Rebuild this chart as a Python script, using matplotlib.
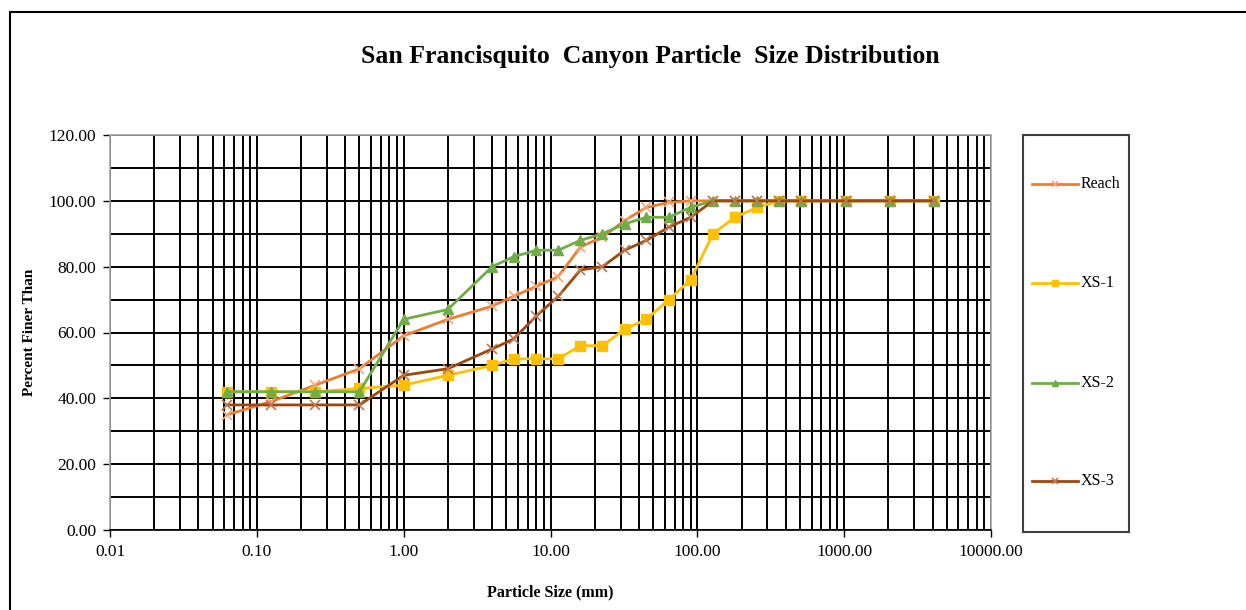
import matplotlib

matplotlib.use("Agg")
import matplotlib.pyplot as plt
from matplotlib.lines import Line2D
from matplotlib.patches import Rectangle
from matplotlib.ticker import FixedLocator, LogLocator, NullFormatter

# sieve sizes (mm)
sizes = [0.0625, 0.125, 0.25, 0.5, 1, 2, 4, 5.6, 8, 11.3, 16, 22.6, 32, 45,
         64, 90, 128, 180, 256, 362, 512, 1024, 2048, 4096]

reach = [35, 39, 44, 49, 59, 64, 68, 71, 74, 77, 86, 89, 94, 98,
         99.5, 100, 100, 100, 100, 100, 100, 100, 100, 100]
xs1 = [42, 42, 42, 43, 44, 47, 50, 52, 52, 52, 56, 56, 61, 64,
       70, 76, 90, 95, 98, 100, 100, 100, 100, 100]
xs2 = [42, 42, 42, 42, 64, 67, 80, 83, 85, 85, 88, 90, 93, 95,
       95, 98, 100, 100, 100, 100, 100, 100, 100, 100]
xs3 = [38, 38, 38, 38, 47, 49, 55, 58, 65, 71, 79, 80, 85, 88,
       92, 95, 100, 100, 100, 100, 100, 100, 100, 100]

series_names = ["Reach", "XS-1", "XS-2", "XS-3"]
series_vals = [reach, xs1, xs2, xs3]

x_ticks = [0.01, 0.1, 1, 10, 100, 1000, 10000]
x_ticklabels = ["0.01", "0.10", "1.00", "10.00", "100.00", "1000.00", "10000.00"]
y_ticks = [0, 20, 40, 60, 80, 100, 120]

plt.rcParams["font.family"] = ["Liberation Serif", "DejaVu Serif"]

fig = plt.figure(figsize=(12.46, 6.10), dpi=100)
W, H = 1246, 610

# outer chart border (cut off at right/bottom in the original)
fig.patches.append(Rectangle((10 / W, -0.05), 1.2, 1 - 12 / H + 0.05,
                             transform=fig.transFigure, fill=False,
                             edgecolor="black", linewidth=1.5))

ax = fig.add_axes([110 / W, 1 - 530 / H, 881 / W, 395 / H])

styles = [
    dict(color="#ED7D31", marker="x", mec="#F4A878", ms=7, mew=1.2),
    dict(color="#FFC000", marker="s", mec="#FFC000", ms=7, mew=1),
    dict(color="#70AD47", marker="^", mec="#70AD47", ms=7.5, mew=1),
    dict(color="#9E480E", marker="x", mec="#C07A50", ms=7, mew=1.2),
]
for name, vals, st in zip(series_names, series_vals, styles):
    ax.plot(sizes, vals, linewidth=2.0, label=name, zorder=3, **st)

ax.set_xscale("log")
ax.set_xlim(0.01, 10000)
ax.set_ylim(0, 120)
ax.set_xticks(x_ticks)
ax.set_xticklabels(x_ticklabels)
ax.xaxis.set_minor_locator(LogLocator(base=10, subs=range(2, 10)))
ax.xaxis.set_minor_formatter(NullFormatter())
ax.set_yticks(y_ticks)
ax.set_yticklabels([f"{v:.2f}" for v in y_ticks])
ax.yaxis.set_minor_locator(FixedLocator([10, 30, 50, 70, 90, 110]))

ax.grid(True, which="both", color="black", linewidth=1.4)
ax.set_axisbelow(True)
ax.tick_params(which="major", length=5, width=1, color="black",
               labelsize=12.5, pad=5)
ax.tick_params(which="minor", length=0)
for sp in ax.spines.values():
    sp.set_color("#a6a6a6")
    sp.set_linewidth(1.2)
ax.spines["bottom"].set_color("black")

ax.set_xlabel("Particle Size (mm)", fontsize=11.5, fontweight="bold", labelpad=18)
ax.set_ylabel("Percent Finer Than", fontsize=11, fontweight="bold", labelpad=9)

fig.text(650 / W, 1 - 57 / H, "San Francisquito  Canyon Particle  Size Distribution",
         ha="center", va="center", fontsize=18.5, fontweight="bold")

# legend box
fig.patches.append(Rectangle((1023 / W, 1 - 532 / H), 106 / W, 397 / H,
                             transform=fig.transFigure, fill=False,
                             edgecolor="#404040", linewidth=1.5))
leg_y = [184, 283, 383, 481]
for name, st, yy in zip(series_names, styles, leg_y):
    yf = 1 - yy / H
    fig.lines.append(Line2D([1032 / W, 1078 / W], [yf, yf], transform=fig.transFigure,
                            color=st["color"], linewidth=2.0))
    fig.lines.append(Line2D([1055 / W], [yf], transform=fig.transFigure,
                            color=st["color"], marker=st["marker"], mec=st["mec"],
                            ms=st["ms"] * 0.6, mew=st["mew"], linestyle="none"))
    fig.text(1081 / W, yf, name, ha="left", va="center", fontsize=11.5)

fig.savefig("out.png", dpi=100)
